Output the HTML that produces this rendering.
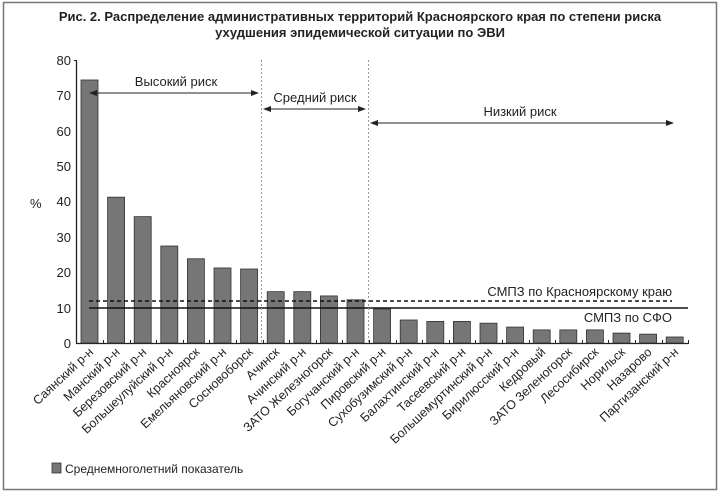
<!DOCTYPE html>
<html><head><meta charset="utf-8"><style>
body{margin:0;background:#fff;}
svg{display:block;font-family:"Liberation Sans",sans-serif;}
</style></head><body>
<svg width="720" height="492" viewBox="0 0 720 492" xmlns="http://www.w3.org/2000/svg">
<rect x="3.5" y="2.5" width="713" height="487" fill="#fff" stroke="#777" stroke-width="1.5"/>
<text x="360" y="21" text-anchor="middle" font-size="13" font-weight="bold" fill="#222">Рис. 2. Распределение административных территорий Красноярского края по степени риска</text>
<text x="360" y="37" text-anchor="middle" font-size="13" font-weight="bold" fill="#222">ухудшения эпидемической ситуации по ЭВИ</text>
<g font-size="13" fill="#222" text-anchor="end">
<text x="71" y="348">0</text><text x="71" y="313">10</text><text x="71" y="277">20</text><text x="71" y="242">30</text><text x="71" y="206">40</text><text x="71" y="171">50</text><text x="71" y="136">60</text><text x="71" y="100">70</text><text x="71" y="65">80</text>
</g>
<text x="30" y="208" font-size="13" fill="#222">%</text>
<line x1="76.5" y1="60" x2="76.5" y2="344" stroke="#222" stroke-width="1.3"/>
<line x1="76" y1="343.5" x2="688" y2="343.5" stroke="#222" stroke-width="1.3"/>
<g stroke="#222" stroke-width="1"><line x1="74" y1="60.5" x2="77" y2="60.5"/></g>
<g id="bars" fill="#767676" stroke="#333" stroke-width="0.8"></g>
<g id="ticks" stroke="#222" stroke-width="1"></g>
<line x1="89" y1="301" x2="672" y2="301" stroke="#111" stroke-width="1.5" stroke-dasharray="4,3"/>
<line x1="89" y1="308" x2="688" y2="308" stroke="#111" stroke-width="1.5"/>
<text x="672" y="296" text-anchor="end" font-size="13" fill="#222">СМПЗ по Красноярскому краю</text>
<text x="672" y="322" text-anchor="end" font-size="13" fill="#222">СМПЗ по СФО</text>
<line x1="261.5" y1="60" x2="261.5" y2="343" stroke="#999" stroke-dasharray="2,2"/>
<line x1="368.5" y1="60" x2="368.5" y2="343" stroke="#999" stroke-dasharray="2,2"/>
<defs><marker id="a" markerWidth="8" markerHeight="6" refX="7" refY="3" orient="auto-start-reverse"><path d="M0,0L8,3L0,6z" fill="#222"/></marker></defs>
<line x1="90" y1="93" x2="258" y2="93" stroke="#222" marker-start="url(#a)" marker-end="url(#a)"/>
<line x1="264" y1="109" x2="365" y2="109" stroke="#222" marker-start="url(#a)" marker-end="url(#a)"/>
<line x1="371" y1="123" x2="673" y2="123" stroke="#222" marker-start="url(#a)" marker-end="url(#a)"/>
<text x="176" y="86" text-anchor="middle" font-size="13" fill="#222">Высокий риск</text>
<text x="315" y="102" text-anchor="middle" font-size="13" fill="#222">Средний риск</text>
<text x="520" y="116" text-anchor="middle" font-size="13" fill="#222">Низкий риск</text>
<g id="labels" font-size="12.5" fill="#222" text-anchor="end"></g>
<rect x="52" y="463" width="9" height="10" fill="#767676" stroke="#333" stroke-width="0.8"/>
<text x="65" y="473" font-size="12" fill="#222">Среднемноголетний показатель</text>
<script>
var v=[74.3,41.2,35.7,27.4,23.8,21.2,20.9,14.5,14.5,13.3,12.2,9.6,6.5,6.1,6.1,5.6,4.5,3.7,3.7,3.7,2.8,2.5,1.7];
var n=["Саянский р-н","Манский р-н","Березовский р-н","Большеулуйский р-н","Красноярск","Емельяновский р-н","Сосновоборск","Ачинск","Ачинский р-н","ЗАТО Железногорск","Богучанский р-н","Пировский р-н","Сухобузимский р-н","Балахтинский р-н","Тасеевский р-н","Большемуртинский р-н","Бирилюсский р-н","Кедровый","ЗАТО Зеленогорск","Лесосибирск","Норильск","Назарово","Партизанский р-н"];
var ns="http://www.w3.org/2000/svg",b=document.getElementById("bars"),t=document.getElementById("ticks"),l=document.getElementById("labels");
for(var i=0;i<23;i++){var x=81+26.6*i,h=v[i]*3.54;
var r=document.createElementNS(ns,"rect");r.setAttribute("x",x);r.setAttribute("y",343-h);r.setAttribute("width",17);r.setAttribute("height",h);b.appendChild(r);
var k=document.createElementNS(ns,"line");var tx=Math.round(x+22)+0.5;k.setAttribute("x1",tx);k.setAttribute("x2",tx);k.setAttribute("y1",340);k.setAttribute("y2",344);t.appendChild(k);
var s=document.createElementNS(ns,"text");var cx=x+13,cy=353;s.setAttribute("x",cx);s.setAttribute("y",cy);s.setAttribute("transform","rotate(-43 "+cx+" "+cy+")");s.textContent=n[i];l.appendChild(s);}
</script>
</svg>
</body></html>
